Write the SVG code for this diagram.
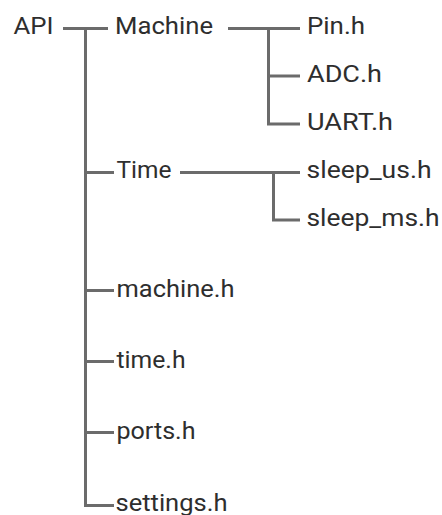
<svg xmlns="http://www.w3.org/2000/svg" width="442" height="515" viewBox="0 0 442 515">
<style>
.t{font-family:Roboto,"Liberation Sans",sans-serif;font-size:23px;fill:#2e2e2e}
.c{stroke:#6b6b6b;stroke-width:3;fill:none;stroke-linejoin:miter;stroke-linecap:butt}
</style>
<rect width="442" height="515" fill="#ffffff"/>
<g id="connectors" class="c">
<path d="M63 28.5H108"/>
<path d="M85.5 28.5V505.5H114"/>
<path d="M85.5 172.5H114"/>
<path d="M85.5 290.5H114"/>
<path d="M85.5 361.5H114"/>
<path d="M85.5 432.5H114"/>
<path d="M228 28.5H300"/>
<path d="M268.5 28.5V124H300"/>
<path d="M268.5 76H300"/>
<path d="M180 172.5H300"/>
<path d="M273.5 172.5V220H300"/>
</g>
<g id="n-api"><text class="t" x="13.5" y="33.5" textLength="40" lengthAdjust="spacingAndGlyphs">API</text></g>
<g id="n-machine"><text class="t" x="115" y="33.5" textLength="98" lengthAdjust="spacingAndGlyphs">Machine</text></g>
<g id="n-pin"><text class="t" x="307" y="34" textLength="58" lengthAdjust="spacingAndGlyphs">Pin.h</text></g>
<g id="n-adc"><text class="t" x="307" y="82" textLength="75" lengthAdjust="spacingAndGlyphs">ADC.h</text></g>
<g id="n-uart"><text class="t" x="307" y="130" textLength="86" lengthAdjust="spacingAndGlyphs">UART.h</text></g>
<g id="n-time"><text class="t" x="116.5" y="177.5" textLength="55" lengthAdjust="spacingAndGlyphs">Time</text></g>
<g id="n-sleep-us"><text class="t" x="306.5" y="177.5" textLength="125" lengthAdjust="spacingAndGlyphs">sleep_us.h</text></g>
<g id="n-sleep-ms"><text class="t" x="306.5" y="225.5" textLength="133" lengthAdjust="spacingAndGlyphs">sleep_ms.h</text></g>
<g id="n-machine-h"><text class="t" x="116.5" y="296.5" textLength="118" lengthAdjust="spacingAndGlyphs">machine.h</text></g>
<g id="n-time-h"><text class="t" x="116.5" y="367.5" textLength="69" lengthAdjust="spacingAndGlyphs">time.h</text></g>
<g id="n-ports-h"><text class="t" x="116.5" y="438.5" textLength="79" lengthAdjust="spacingAndGlyphs">ports.h</text></g>
<g id="n-settings-h"><text class="t" x="115.5" y="510.5" textLength="112" lengthAdjust="spacingAndGlyphs">settings.h</text></g>
</svg>
